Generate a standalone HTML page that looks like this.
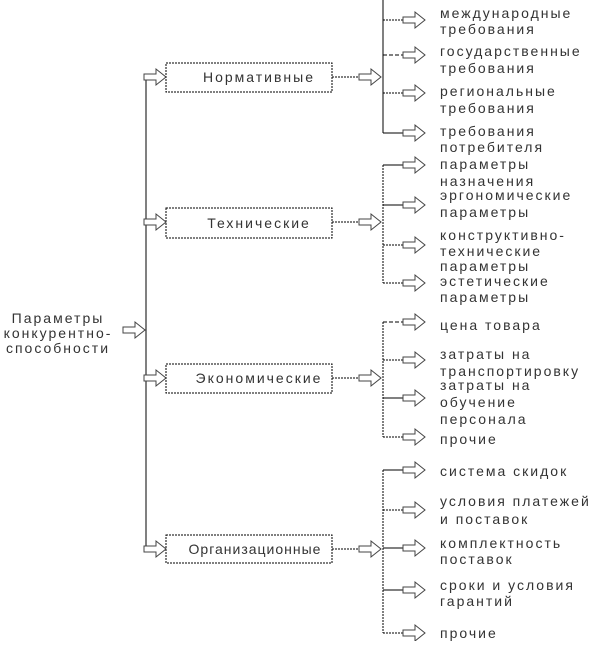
<!DOCTYPE html>
<html><head><meta charset="utf-8"><style>
html,body{margin:0;padding:0;background:#fff}
svg text{font-family:"Liberation Sans","DejaVu Sans",sans-serif;font-size:14px;fill:#333;letter-spacing:2px}
</style></head><body>
<svg width="600" height="641" xmlns="http://www.w3.org/2000/svg">
<defs>
<path id="ar" d="M-22,-3 h12 v-5 l10,8 l-10,8 v-5 h-12 z" fill="#fff" stroke="#444" stroke-width="1"/>
</defs>
<g stroke="#000" fill="none" stroke-width="1">
<line x1="146" y1="77" x2="146" y2="549"/>
<line x1="146" y1="77" x2="150" y2="77" stroke-dasharray="2,1"/>
<line x1="146" y1="222" x2="150" y2="222" stroke-dasharray="2,1"/>
<line x1="146" y1="378" x2="150" y2="378" stroke-dasharray="2,1"/>
<line x1="146" y1="549" x2="150" y2="549"/>
<rect x="166" y="63" width="166" height="29" stroke-dasharray="2,1"/>
<rect x="166" y="208" width="166" height="30" stroke-dasharray="2,1"/>
<rect x="166" y="364" width="166" height="29" stroke-dasharray="2,1"/>
<rect x="166" y="535" width="166" height="28" stroke-dasharray="2,1"/>
<line x1="332" y1="77" x2="360" y2="77" stroke-dasharray="2,1"/>
<line x1="332" y1="222" x2="360" y2="222" stroke-dasharray="2,1"/>
<line x1="332" y1="378" x2="360" y2="378" stroke-dasharray="2,1"/>
<line x1="332" y1="549" x2="360" y2="549" stroke-dasharray="2,1"/>
<line x1="383" y1="0" x2="383" y2="133"/>
<line x1="383" y1="165" x2="383" y2="283" stroke-dasharray="2,1"/>
<line x1="383" y1="322" x2="383" y2="437" stroke-dasharray="2,1"/>
<line x1="383" y1="470" x2="383" y2="633" stroke-dasharray="2,1"/>
<line x1="383" y1="20" x2="405" y2="20" stroke-dasharray="2,1"/>
<line x1="383" y1="55" x2="405" y2="55" stroke-dasharray="4,2"/>
<line x1="383" y1="93" x2="405" y2="93" stroke-dasharray="2,1"/>
<line x1="383" y1="133" x2="405" y2="133"/>
<line x1="383" y1="165" x2="405" y2="165"/>
<line x1="383" y1="205" x2="405" y2="205"/>
<line x1="383" y1="245" x2="405" y2="245" stroke-dasharray="2,1"/>
<line x1="383" y1="283" x2="405" y2="283" stroke-dasharray="2,1"/>
<line x1="383" y1="322" x2="405" y2="322" stroke-dasharray="4,2"/>
<line x1="383" y1="360" x2="405" y2="360" stroke-dasharray="2,1"/>
<line x1="383" y1="398" x2="405" y2="398"/>
<line x1="383" y1="437" x2="405" y2="437" stroke-dasharray="2,1"/>
<line x1="383" y1="470" x2="405" y2="470"/>
<line x1="383" y1="510" x2="405" y2="510" stroke-dasharray="2,1"/>
<line x1="383" y1="548" x2="405" y2="548"/>
<line x1="383" y1="590" x2="405" y2="590"/>
<line x1="383" y1="633" x2="405" y2="633" stroke-dasharray="2,1"/>
</g>
<use href="#ar" x="166" y="77"/><use href="#ar" x="166" y="222"/><use href="#ar" x="166" y="378"/><use href="#ar" x="166" y="549"/>
<use href="#ar" x="381" y="77"/><use href="#ar" x="381" y="222"/><use href="#ar" x="381" y="378"/><use href="#ar" x="381" y="549"/>
<use href="#ar" x="145" y="330"/>
<use href="#ar" x="425" y="20"/><use href="#ar" x="425" y="55"/><use href="#ar" x="425" y="93"/><use href="#ar" x="425" y="133"/>
<use href="#ar" x="425" y="165"/><use href="#ar" x="425" y="205"/><use href="#ar" x="425" y="245"/><use href="#ar" x="425" y="283"/>
<use href="#ar" x="425" y="322"/><use href="#ar" x="425" y="360"/><use href="#ar" x="425" y="398"/><use href="#ar" x="425" y="437"/>
<use href="#ar" x="425" y="470"/><use href="#ar" x="425" y="510"/><use href="#ar" x="425" y="548"/><use href="#ar" x="425" y="590"/><use href="#ar" x="425" y="633"/>
<text x="259" y="82" text-anchor="middle">Нормативные</text>
<text x="259" y="228" text-anchor="middle">Технические</text>
<text x="259" y="383" text-anchor="middle">Экономические</text>
<text x="255" y="554" text-anchor="middle" style="letter-spacing:1px">Организационные</text>
<text x="58" y="323" text-anchor="middle">Параметры</text>
<text x="58" y="338" text-anchor="middle">конкурентно-</text>
<text x="58" y="353" text-anchor="middle">способности</text>
<g>
<text x="440" y="18">международные</text><text x="440" y="34">требования</text>
<text x="440" y="56">государственные</text><text x="440" y="73">требования</text>
<text x="440" y="96">региональные</text><text x="440" y="113">требования</text>
<text x="440" y="136">требования</text><text x="440" y="152">потребителя</text>
<text x="440" y="169">параметры</text><text x="440" y="186">назначения</text>
<text x="440" y="200">эргономические</text><text x="440" y="217">параметры</text>
<text x="440" y="240">конструктивно-</text><text x="440" y="256">технические</text><text x="440" y="271">параметры</text>
<text x="440" y="286">эстетические</text><text x="440" y="302">параметры</text>
<text x="440" y="330">цена товара</text>
<text x="440" y="359">затраты на</text><text x="440" y="376">транспортировку</text>
<text x="440" y="390">затраты на</text><text x="440" y="407">обучение</text><text x="440" y="424">персонала</text>
<text x="440" y="444">прочие</text>
<text x="440" y="476">система скидок</text>
<text x="440" y="506">условия платежей</text><text x="440" y="524">и поставок</text>
<text x="440" y="548">комплектность</text><text x="440" y="564">поставок</text>
<text x="440" y="590">сроки и условия</text><text x="440" y="606">гарантий</text>
<text x="440" y="638">прочие</text>
</g>
</svg>
</body></html>
